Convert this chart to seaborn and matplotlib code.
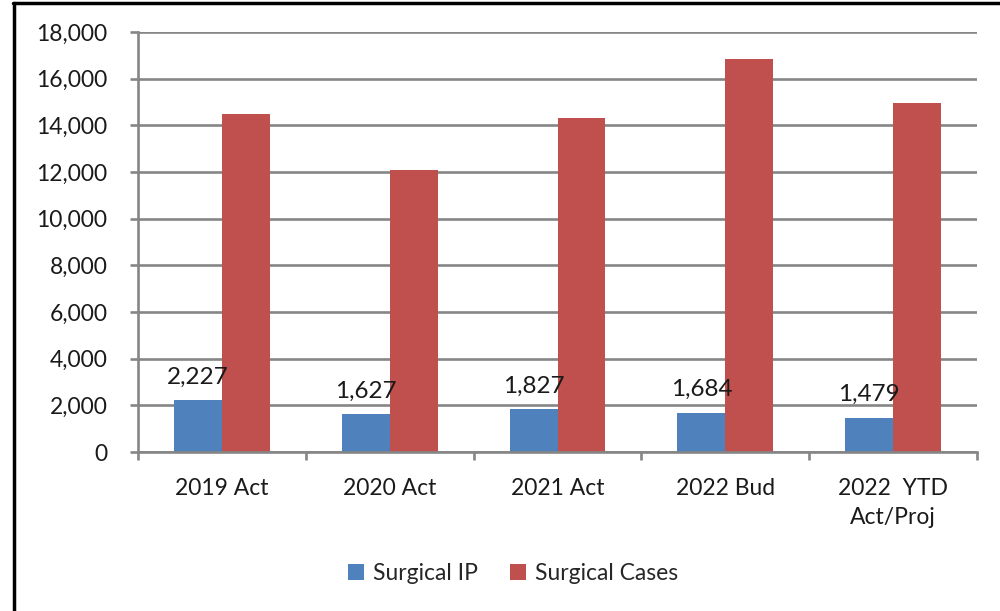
import pandas as pd
import seaborn as sns
import matplotlib.pyplot as plt
from matplotlib.lines import Line2D
from matplotlib.ticker import FuncFormatter

categories = ["2019 Act", "2020 Act", "2021 Act", "2022 Bud", "2022  YTD\nAct/Proj"]
surgical_ip = [2227, 1627, 1827, 1684, 1479]
surgical_cases = [14500, 12100, 14300, 16850, 14950]
series_names = ["Surgical IP", "Surgical Cases"]
colors = ["#4F81BD", "#C0504D"]

sns.set_theme(style="white")
plt.rcParams["font.family"] = ["Lato", "DejaVu Sans"]

df = pd.concat([
    pd.DataFrame({"Year": categories, "Value": surgical_ip, "Series": series_names[0]}),
    pd.DataFrame({"Year": categories, "Value": surgical_cases, "Series": series_names[1]}),
])

fig = plt.figure(figsize=(10, 6.11), dpi=100)
ax = fig.add_axes([0.138, 0.2602, 0.839, 0.6874])

sns.barplot(data=df, x="Year", y="Value", hue="Series", palette=colors,
            width=0.57, gap=0, saturation=1, linewidth=0, ax=ax, legend=True)

grid_col = "#868686"
text_col = "#1a1a1a"

ax.set_ylim(0, 18000)
ax.set_yticks(range(0, 18001, 2000))
ax.yaxis.set_major_formatter(FuncFormatter(lambda v, _: f"{v:,.0f}"))
ax.set_xlim(-0.5, len(categories) - 0.5)
ax.yaxis.grid(True, color=grid_col, linewidth=1.9)
ax.set_axisbelow(True)
ax.set_xlabel("")
ax.set_ylabel("")

for side in ["top", "right"]:
    ax.spines[side].set_visible(False)
for side in ["left", "bottom"]:
    ax.spines[side].set_color(grid_col)
    ax.spines[side].set_linewidth(1.9)

ax.tick_params(axis="y", left=True, length=6, width=1.9, color=grid_col,
               labelsize=16.5, labelcolor=text_col, pad=16)
ax.tick_params(axis="x", which="major", length=0, labelsize=16.5,
               labelcolor=text_col, pad=19)
for lab in ax.get_xticklabels():
    lab.set_linespacing(1.45)
ax.set_xticks([i - 0.5 for i in range(len(categories) + 1)], minor=True)
ax.tick_params(axis="x", which="minor", bottom=True, length=6, width=1.9,
               color=grid_col)

ax.bar_label(ax.containers[0], labels=[f"{v:,}" for v in surgical_ip],
             padding=9, fontsize=17.5, color=text_col)

handles, labels = ax.get_legend_handles_labels()
ax.get_legend().remove()
fig.legend(handles, labels, loc="center", bbox_to_anchor=(0.513, 0.062),
           ncol=2, frameon=False, fontsize=16.5, handlelength=0.7,
           handleheight=0.7, handletextpad=0.4, columnspacing=1.4)

# outer frame lines (top and left)
fig.add_artist(Line2D([0.0125, 1.0], [0.995, 0.995], color="black", linewidth=2.5,
                      transform=fig.transFigure))
fig.add_artist(Line2D([0.0135, 0.0135], [0.0, 0.995], color="black", linewidth=2.5,
                      transform=fig.transFigure))

fig.savefig("out.png", dpi=100)
